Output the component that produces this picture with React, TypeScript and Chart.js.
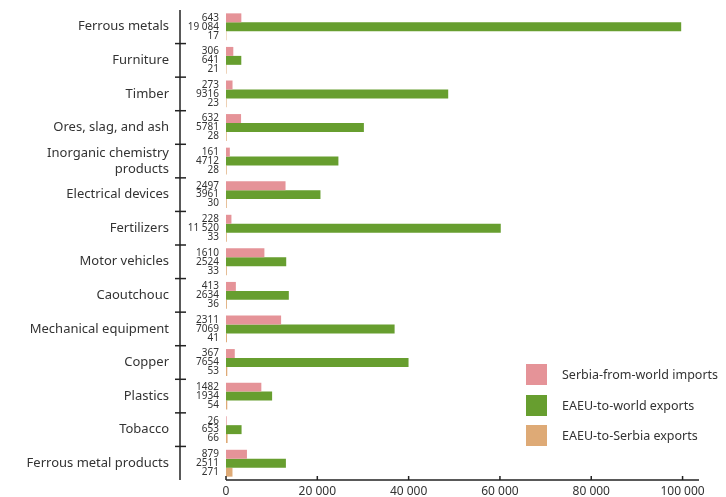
import React, { useEffect, useRef } from "react";
import { Chart, registerables } from "chart.js";

Chart.register(...registerables);

const categories: (string | string[])[] = [
  "Ferrous metals",
  "Furniture",
  "Timber",
  "Ores, slag, and ash",
  ["Inorganic chemistry", "products"],
  "Electrical devices",
  "Fertilizers",
  "Motor vehicles",
  "Caoutchouc",
  "Mechanical equipment",
  "Copper",
  "Plastics",
  "Tobacco",
  "Ferrous metal products",
];

const seriesNames = ["Serbia-from-world imports", "EAEU-to-world exports", "EAEU-to-Serbia exports"];
const seriesColors = ["#E59398", "#679E2F", "#DEAA76"];

// Bar lengths (axis units)
const serbiaImports = [3360, 1600, 1430, 3300, 840, 13040, 1190, 8410, 2160, 12070, 1920, 7740, 140, 4590];
const eaeuWorld = [99700, 3350, 48670, 30200, 24620, 20690, 60180, 13190, 13760, 36930, 39980, 10100, 3410, 13120];
const eaeuSerbia = [90, 110, 120, 150, 150, 160, 170, 170, 190, 210, 280, 280, 350, 1420];

// Printed value labels next to the bars
const serbiaImportsLabels = [643, 306, 273, 632, 161, 2497, 228, 1610, 413, 2311, 367, 1482, 26, 879];
const eaeuWorldLabels = [19084, 641, 9316, 5781, 4712, 3961, 11520, 2524, 2634, 7069, 7654, 1934, 653, 2511];
const eaeuSerbiaLabels = [17, 21, 23, 28, 28, 30, 33, 33, 36, 41, 53, 54, 66, 271];

const xTickValues = [0, 20000, 40000, 60000, 80000, 100000];

const FONT = '"Noto Sans", sans-serif';
const TEXT = "#333333";
const AXIS = "#222222";

function fmt(n: number): string {
  if (n >= 10000) return String(n).replace(/\B(?=(\d{3})+(?!\d))/g, " ");
  return String(n);
}

const labelSets = [serbiaImportsLabels, eaeuWorldLabels, eaeuSerbiaLabels];

const customPlugin = {
  id: "customDraw",
  afterDraw(chart: any) {
    const ctx = chart.ctx as CanvasRenderingContext2D;
    const { left, right, top, bottom } = chart.chartArea;
    const xs = chart.scales.x;
    const ys = chart.scales.y;
    ctx.save();
    ctx.strokeStyle = AXIS;
    ctx.lineWidth = 1.5;
    // x axis line
    ctx.beginPath();
    ctx.moveTo(left, bottom);
    ctx.lineTo(right, bottom);
    ctx.stroke();
    // x ticks (inward)
    xTickValues.forEach((v) => {
      const x = xs.getPixelForValue(v);
      ctx.beginPath();
      ctx.moveTo(x, bottom);
      ctx.lineTo(x, bottom - 4);
      ctx.stroke();
    });
    // y axis line
    const yx = 180;
    ctx.beginPath();
    ctx.moveTo(yx, top);
    ctx.lineTo(yx, bottom);
    ctx.stroke();
    for (let i = 0; i < categories.length - 1; i++) {
      const yb = (ys.getPixelForTick(i) + ys.getPixelForTick(i + 1)) / 2;
      ctx.beginPath();
      ctx.moveTo(yx - 5, yb);
      ctx.lineTo(yx + 6, yb);
      ctx.stroke();
    }
    // value labels
    ctx.font = `10px ${FONT}`;
    ctx.fillStyle = TEXT;
    ctx.textAlign = "right";
    ctx.textBaseline = "middle";
    labelSets.forEach((set, d) => {
      const meta = chart.getDatasetMeta(d);
      set.forEach((val, i) => {
        const el = meta.data[i];
        ctx.fillText(fmt(val), 219, el.y);
      });
    });
    // legend
    const legendX = 526;
    const legendYs = [364, 395, 425];
    ctx.font = `12.5px ${FONT}`;
    ctx.textAlign = "left";
    seriesNames.forEach((name, i) => {
      ctx.fillStyle = seriesColors[i];
      ctx.fillRect(legendX, legendYs[i], 21, 21);
      ctx.fillStyle = TEXT;
      ctx.fillText(name, 562, legendYs[i] + 11);
    });
    ctx.restore();
  },
};

export default function App() {
  const ref = useRef<HTMLCanvasElement | null>(null);
  useEffect(() => {
    document.body.style.margin = "0";
    const canvas = ref.current;
    if (!canvas) return;
    const chart = new Chart(canvas, {
      type: "bar",
      data: {
        labels: categories as any,
        datasets: [
          { label: seriesNames[0], data: serbiaImports, backgroundColor: seriesColors[0] },
          { label: seriesNames[1], data: eaeuWorld, backgroundColor: seriesColors[1] },
          { label: seriesNames[2], data: eaeuSerbia, backgroundColor: seriesColors[2] },
        ],
      },
      options: {
        indexAxis: "y",
        responsive: false,
        animation: false,
        devicePixelRatio: 1,
        layout: { padding: { top: 10, right: 27, left: 0, bottom: 0 } },
        datasets: { bar: { categoryPercentage: 0.8, barPercentage: 1.0 } },
        plugins: { legend: { display: false }, tooltip: { enabled: false } },
        scales: {
          x: {
            type: "linear",
            min: 0,
            max: 103600,
            border: { display: false },
            grid: { display: false, drawTicks: false },
            afterBuildTicks: (s: any) => {
              s.ticks = xTickValues.map((v) => ({ value: v }));
            },
            afterFit: (s: any) => {
              s.height = 17;
              s.paddingLeft = 0;
              s.paddingRight = 0;
            },
            ticks: {
              padding: 4,
              color: TEXT,
              maxRotation: 0,
              font: { family: FONT, size: 12 },
              callback: (v: any) => String(v).replace(/\B(?=(\d{3})+(?!\d))/g, " "),
            },
          },
          y: {
            type: "category",
            border: { display: false },
            grid: { display: false, drawTicks: false },
            afterFit: (s: any) => {
              s.width = 226;
              s.paddingTop = 0;
              s.paddingBottom = 0;
            },
            ticks: {
              padding: 57,
              color: TEXT,
              autoSkip: false,
              font: { family: FONT, size: 13 },
            },
          },
        },
      },
      plugins: [customPlugin],
    });
    return () => chart.destroy();
  }, []);
  return (
    <div style={{ width: 726, height: 497 }}>
      <canvas ref={ref} width={726} height={497} />
    </div>
  );
}
